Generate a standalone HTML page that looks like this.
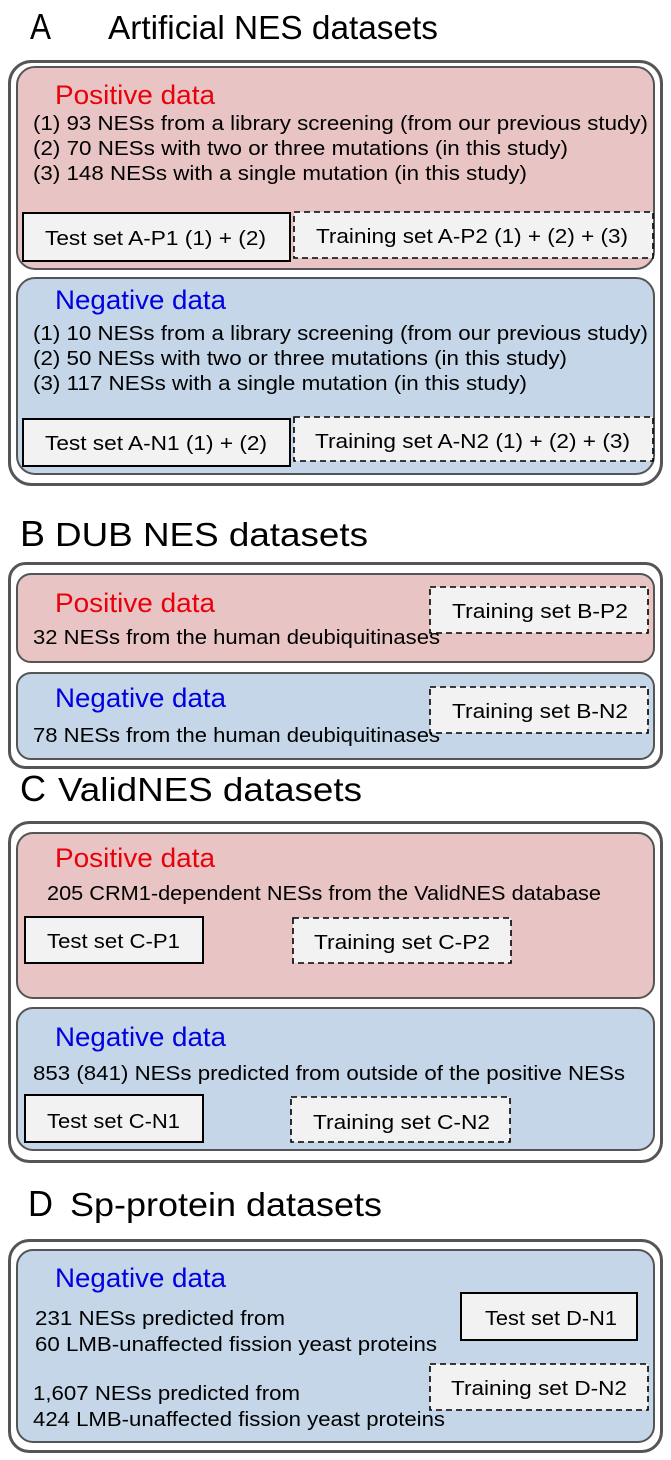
<!DOCTYPE html>
<html><head><meta charset="utf-8"><style>
html,body{margin:0;padding:0;background:#fff;width:671px;height:1460px;overflow:hidden}
svg text{font-family:"Liberation Sans",sans-serif;fill:#000}
</style></head><body>
<svg width="671" height="1460" viewBox="0 0 671 1460" xmlns="http://www.w3.org/2000/svg">
<g>
<text x="30" y="39" font-size="36" textLength="21" lengthAdjust="spacingAndGlyphs">A</text>
<text x="108" y="39" font-size="33" textLength="330" lengthAdjust="spacingAndGlyphs">Artificial NES datasets</text>
<rect x="9.5" y="61.5" width="652" height="423" rx="22" fill="#fff" stroke="#555" stroke-width="3"/>
<rect x="17" y="67" width="637" height="202" rx="18" fill="#e9c4c4" stroke="#555" stroke-width="2"/>
<text x="55" y="104" font-size="27" style="fill:#e8000b" textLength="160" lengthAdjust="spacingAndGlyphs">Positive data</text>
<text x="33" y="130" font-size="20.5" textLength="615" lengthAdjust="spacingAndGlyphs">(1)  93 NESs from a library screening (from our previous study)</text>
<text x="33" y="155" font-size="20.5" textLength="535" lengthAdjust="spacingAndGlyphs">(2)  70 NESs with two or three mutations (in this study)</text>
<text x="33" y="180" font-size="20.5" textLength="494" lengthAdjust="spacingAndGlyphs">(3)  148 NESs with a single mutation (in this study)</text>
<rect x="23" y="213" width="267" height="48" fill="#f2f2f2" stroke="#000" stroke-width="2"/>
<text x="45" y="245" font-size="20.5" textLength="221" lengthAdjust="spacingAndGlyphs">Test set A-P1  (1) + (2)</text>
<rect x="294" y="212" width="359" height="46" fill="#f2f2f2" stroke="#000" stroke-width="1.6" stroke-dasharray="6,4"/>
<text x="316" y="243" font-size="20.5" textLength="312" lengthAdjust="spacingAndGlyphs">Training set A-P2  (1) + (2) + (3)</text>
<rect x="17" y="278" width="637" height="196" rx="18" fill="#c4d6e8" stroke="#555" stroke-width="2"/>
<text x="55" y="309" font-size="27" style="fill:#0000e0" textLength="171" lengthAdjust="spacingAndGlyphs">Negative data</text>
<text x="33" y="340" font-size="20.5" textLength="615" lengthAdjust="spacingAndGlyphs">(1)  10 NESs from a library screening (from our previous study)</text>
<text x="33" y="365" font-size="20.5" textLength="534" lengthAdjust="spacingAndGlyphs">(2)  50 NESs with two or three mutations (in this study)</text>
<text x="33" y="390" font-size="20.5" textLength="494" lengthAdjust="spacingAndGlyphs">(3)  117 NESs with a single mutation (in this study)</text>
<rect x="23" y="419" width="267" height="47" fill="#f2f2f2" stroke="#000" stroke-width="2"/>
<text x="45" y="450" font-size="20.5" textLength="222" lengthAdjust="spacingAndGlyphs">Test set A-N1  (1) + (2)</text>
<rect x="294" y="417" width="359" height="44" fill="#f2f2f2" stroke="#000" stroke-width="1.6" stroke-dasharray="6,4"/>
<text x="315" y="448" font-size="20.5" textLength="315" lengthAdjust="spacingAndGlyphs">Training set A-N2  (1) + (2) + (3)</text>
</g>
<g>
<text x="20" y="546" font-size="36" textLength="25" lengthAdjust="spacingAndGlyphs">B</text>
<text x="55" y="546" font-size="33" textLength="313" lengthAdjust="spacingAndGlyphs">DUB NES datasets</text>
<rect x="9.5" y="563.5" width="652" height="204" rx="16" fill="#fff" stroke="#555" stroke-width="3"/>
<rect x="17" y="574" width="637" height="88" rx="14" fill="#e9c4c4" stroke="#555" stroke-width="2"/>
<text x="55" y="612" font-size="27" style="fill:#e8000b" textLength="160" lengthAdjust="spacingAndGlyphs">Positive data</text>
<text x="33" y="644" font-size="20.5" textLength="407" lengthAdjust="spacingAndGlyphs">32 NESs from the human deubiquitinases</text>
<rect x="430" y="587" width="218" height="46" fill="#f2f2f2" stroke="#000" stroke-width="1.6" stroke-dasharray="6,4"/>
<text x="452" y="618" font-size="20.5" textLength="176" lengthAdjust="spacingAndGlyphs">Training set B-P2</text>
<rect x="17" y="673" width="637" height="86" rx="14" fill="#c4d6e8" stroke="#555" stroke-width="2"/>
<text x="55" y="707" font-size="27" style="fill:#0000e0" textLength="171" lengthAdjust="spacingAndGlyphs">Negative data</text>
<text x="33" y="742" font-size="20.5" textLength="407" lengthAdjust="spacingAndGlyphs">78 NESs from the human deubiquitinases</text>
<rect x="430" y="687" width="218" height="46" fill="#f2f2f2" stroke="#000" stroke-width="1.6" stroke-dasharray="6,4"/>
<text x="452" y="718" font-size="20.5" textLength="176" lengthAdjust="spacingAndGlyphs">Training set B-N2</text>
</g>
<g>
<text x="20" y="801" font-size="36" textLength="26" lengthAdjust="spacingAndGlyphs">C</text>
<text x="58" y="801" font-size="33" textLength="304" lengthAdjust="spacingAndGlyphs">ValidNES datasets</text>
<rect x="9.5" y="822.5" width="652" height="339" rx="20" fill="#fff" stroke="#555" stroke-width="3"/>
<rect x="17" y="833" width="637" height="165" rx="16" fill="#e9c4c4" stroke="#555" stroke-width="2"/>
<text x="55" y="867" font-size="27" style="fill:#e8000b" textLength="160" lengthAdjust="spacingAndGlyphs">Positive data</text>
<text x="47" y="900" font-size="20.5" textLength="554" lengthAdjust="spacingAndGlyphs">205 CRM1-dependent NESs from the ValidNES database</text>
<rect x="25" y="917" width="178" height="46" fill="#f2f2f2" stroke="#000" stroke-width="2"/>
<text x="47" y="948" font-size="20.5" textLength="133" lengthAdjust="spacingAndGlyphs">Test set C-P1</text>
<rect x="293" y="918" width="218" height="45" fill="#f2f2f2" stroke="#000" stroke-width="1.6" stroke-dasharray="6,4"/>
<text x="314" y="949" font-size="20.5" textLength="176" lengthAdjust="spacingAndGlyphs">Training set C-P2</text>
<rect x="17" y="1008" width="637" height="142" rx="16" fill="#c4d6e8" stroke="#555" stroke-width="2"/>
<text x="55" y="1046" font-size="27" style="fill:#0000e0" textLength="171" lengthAdjust="spacingAndGlyphs">Negative data</text>
<text x="33" y="1080" font-size="20.5" textLength="592" lengthAdjust="spacingAndGlyphs">853 (841) NESs predicted from outside of the positive NESs</text>
<rect x="25" y="1095" width="178" height="47" fill="#f2f2f2" stroke="#000" stroke-width="2"/>
<text x="47" y="1128" font-size="20.5" textLength="133" lengthAdjust="spacingAndGlyphs">Test set C-N1</text>
<rect x="291" y="1097" width="219" height="45" fill="#f2f2f2" stroke="#000" stroke-width="1.6" stroke-dasharray="6,4"/>
<text x="313" y="1129" font-size="20.5" textLength="177" lengthAdjust="spacingAndGlyphs">Training set C-N2</text>
</g>
<g>
<text x="28" y="1216" font-size="36" textLength="25" lengthAdjust="spacingAndGlyphs">D</text>
<text x="70" y="1216" font-size="33" textLength="312" lengthAdjust="spacingAndGlyphs">Sp-protein datasets</text>
<rect x="9.5" y="1240.5" width="652" height="211" rx="20" fill="#fff" stroke="#555" stroke-width="3"/>
<rect x="17" y="1250" width="637" height="192" rx="16" fill="#c4d6e8" stroke="#555" stroke-width="2"/>
<text x="55" y="1287" font-size="27" style="fill:#0000e0" textLength="171" lengthAdjust="spacingAndGlyphs">Negative data</text>
<text x="35" y="1325" font-size="20.5" textLength="250" lengthAdjust="spacingAndGlyphs">231 NESs predicted from</text>
<text x="35" y="1351" font-size="20.5" textLength="402" lengthAdjust="spacingAndGlyphs">60 LMB-unaffected fission yeast proteins</text>
<text x="33" y="1400" font-size="20.5" textLength="267" lengthAdjust="spacingAndGlyphs">1,607 NESs predicted from</text>
<text x="33" y="1426" font-size="20.5" textLength="412" lengthAdjust="spacingAndGlyphs">424 LMB-unaffected fission yeast proteins</text>
<rect x="461" y="1293" width="176" height="47" fill="#f2f2f2" stroke="#000" stroke-width="2"/>
<text x="485" y="1325" font-size="20.5" textLength="132" lengthAdjust="spacingAndGlyphs">Test set D-N1</text>
<rect x="430" y="1364" width="218" height="46" fill="#f2f2f2" stroke="#000" stroke-width="1.6" stroke-dasharray="6,4"/>
<text x="451" y="1395" font-size="20.5" textLength="176" lengthAdjust="spacingAndGlyphs">Training set D-N2</text>
</g>
</svg>
</body></html>
